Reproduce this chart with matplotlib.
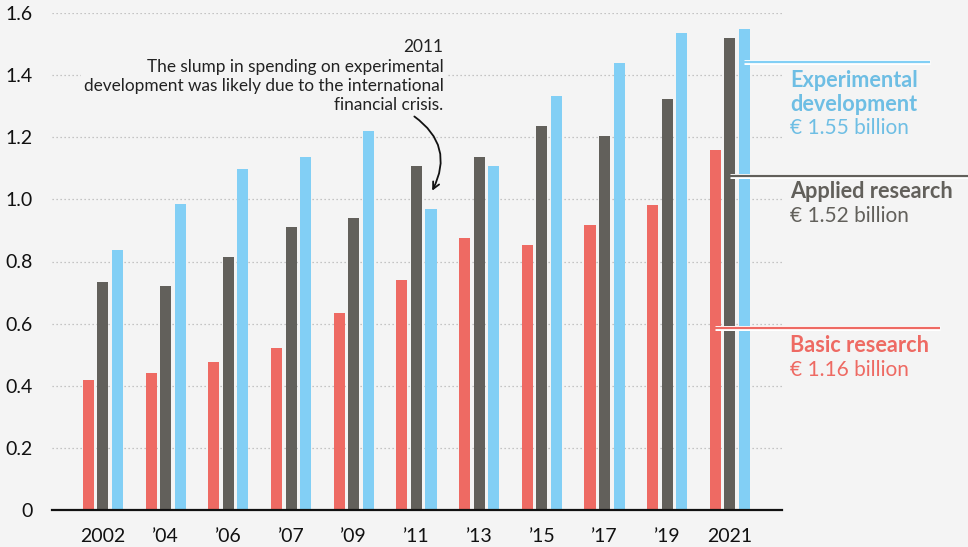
import matplotlib
matplotlib.use("Agg")
import matplotlib.pyplot as plt
import matplotlib.patheffects as pe
import numpy as np

plt.rcParams['font.family'] = ['Lato', 'DejaVu Sans']

years = ["2002", "’04", "’06", "’07", "’09", "’11", "’13", "’15", "’17", "’19", "2021"]
basic = [0.42, 0.44, 0.476, 0.52, 0.634, 0.74, 0.876, 0.853, 0.918, 0.982, 1.16]
applied = [0.734, 0.72, 0.815, 0.911, 0.94, 1.108, 1.137, 1.236, 1.204, 1.323, 1.52]
experimental = [0.837, 0.985, 1.098, 1.137, 1.22, 0.97, 1.108, 1.333, 1.44, 1.536, 1.55]
yticks = [0, 0.2, 0.4, 0.6, 0.8, 1.0, 1.2, 1.4, 1.6]
ytick_labels = ["0", "0.2", "0.4", "0.6", "0.8", "1.0", "1.2", "1.4", "1.6"]

RED = "#ee6a63"
GRAY = "#62605b"
BLUE = "#82cff5"
BLUE_TXT = "#6ebee4"
BG = "#f4f4f4"

fig = plt.figure(figsize=(9.68, 5.47), dpi=100, facecolor=BG)
ax = fig.add_axes([52/968, 1-510/547, 730/968, 497/547], facecolor=BG)

x = np.arange(len(years))
w = 0.176
off = 0.232
ax.bar(x - off, basic, w, color=RED, zorder=3)
ax.bar(x, applied, w, color=GRAY, zorder=3)
ax.bar(x + off, experimental, w, color=BLUE, zorder=3)

ax.set_xlim(-0.813, 10.83)
ax.set_ylim(0, 1.6)
ax.set_yticks(yticks)
ax.set_yticklabels(ytick_labels)
ax.set_xticks(x)
ax.set_xticklabels(years)
ax.tick_params(axis='y', length=0, pad=14, labelsize=14, labelcolor="#111")
ax.tick_params(axis='x', length=0, pad=13, labelsize=14, labelcolor="#111")

for s in ["top", "right", "left"]:
    ax.spines[s].set_visible(False)
ax.spines["bottom"].set_color("#111")
ax.spines["bottom"].set_linewidth(1.6)
ax.spines["bottom"].set_zorder(5)

ax.yaxis.grid(True, color="#b5b5b5", linestyle=(0, (1, 2.2)), linewidth=0.9, zorder=0)
ax.set_axisbelow(True)

# annotation
ax.text(5.43, 1.515, "2011\nThe slump in spending on experimental\ndevelopment was likely due to the international\nfinancial crisis.",
        ha="right", va="top", fontsize=12.4, color="#222", linespacing=1.24, zorder=6,
        bbox=dict(facecolor=BG, edgecolor="none", pad=2))
ax.annotate("", xy=(5.23, 1.02), xytext=(4.93, 1.272),
            arrowprops=dict(arrowstyle="->", color="#111", lw=1.3,
                            connectionstyle="arc3,rad=-0.45", mutation_scale=12),
            zorder=7)

# right-side labels
def label_line(x0, x1, y, color):
    ax.plot([x0, x1], [y, y], color=color, lw=1.6, clip_on=False, zorder=6,
            solid_capstyle="butt",
            path_effects=[pe.Stroke(linewidth=3.6, foreground="white"), pe.Normal()])

def label_text(y, s, color, bold):
    ax.text(10.96, y, s, color=color, fontsize=15.6 if bold else 15,
            fontweight="bold" if bold else "normal",
            ha="left", va="center", clip_on=False)

label_line(10.22, 13.19, 1.442, BLUE)
label_text(1.384, "Experimental", BLUE_TXT, True)
label_text(1.307, "development", BLUE_TXT, True)
label_text(1.230, "€ 1.55 billion", BLUE_TXT, False)

label_line(10.0, 13.9, 1.075, GRAY)
label_text(1.024, "Applied research", GRAY, True)
label_text(0.947, "€ 1.52 billion", GRAY, False)

label_line(9.76, 13.35, 0.586, RED)
label_text(0.528, "Basic research", RED, True)
label_text(0.451, "€ 1.16 billion", RED, False)

fig.savefig("out.png", dpi=100, facecolor=BG)
